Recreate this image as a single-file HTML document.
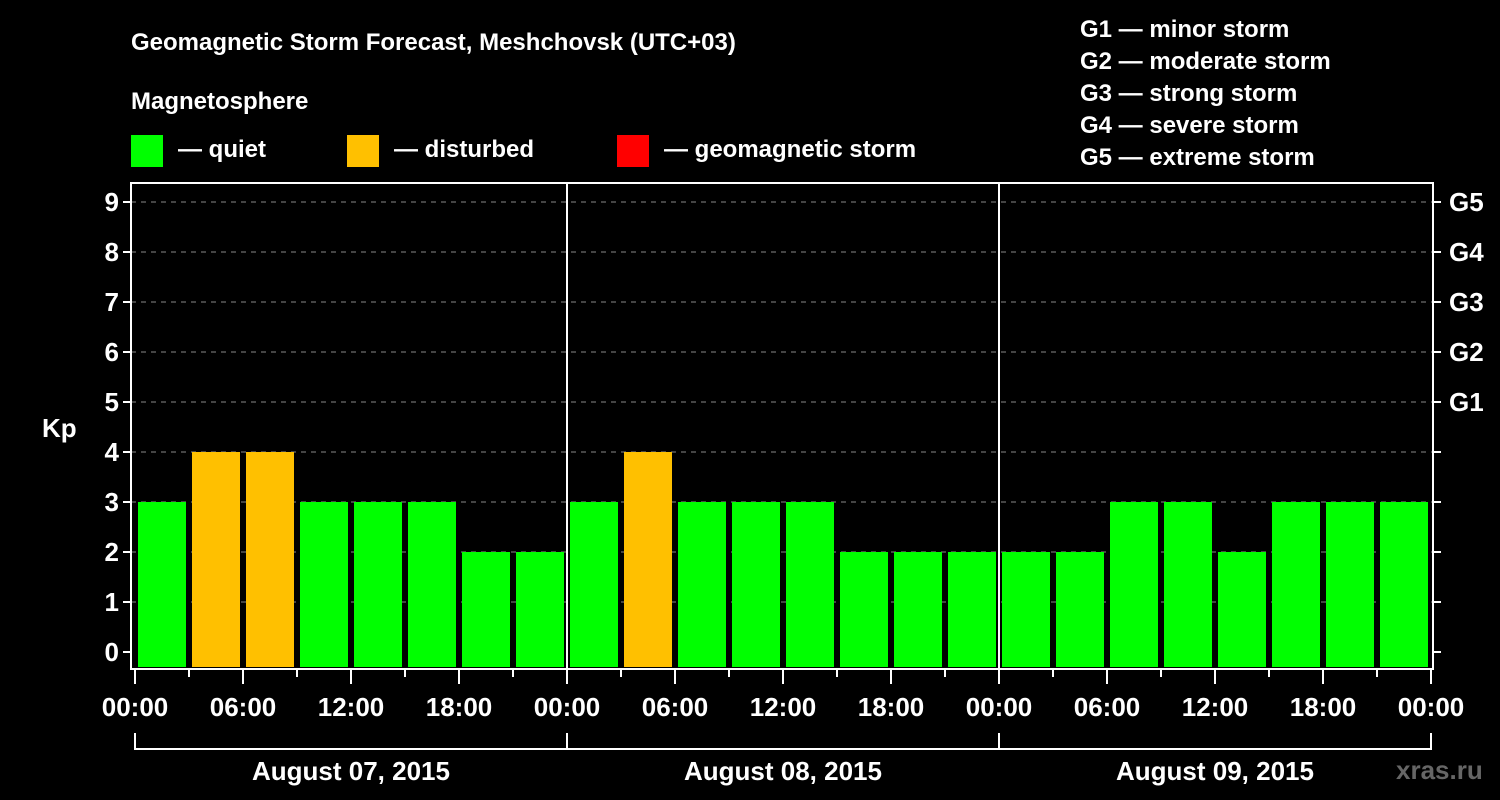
<!DOCTYPE html>
<html><head><meta charset="utf-8"><style>
body{margin:0;background:#000;}
svg{display:block;font-family:"Liberation Sans",Arial,sans-serif;font-weight:bold;}
</style></head><body>
<svg id="c" width="1500" height="800" viewBox="0 0 1500 800">
<rect width="1500" height="800" fill="#000"/>
<text x="131" y="50" fill="#fff" font-size="24">Geomagnetic Storm Forecast, Meshchovsk (UTC+03)</text>
<text x="131" y="109" fill="#fff" font-size="24">Magnetosphere</text>
<g><rect x="131" y="135" width="32" height="32" fill="#00ff00"/><text x="178" y="157" fill="#fff" font-size="24">— quiet</text></g>
<g><rect x="347" y="135" width="32" height="32" fill="#ffc000"/><text x="394" y="157" fill="#fff" font-size="24">— disturbed</text></g>
<g><rect x="617" y="135" width="32" height="32" fill="#ff0000"/><text x="664" y="157" fill="#fff" font-size="24">— geomagnetic storm</text></g>
<g fill="#fff" font-size="24">
<text x="1080" y="37">G1 — minor storm</text>
<text x="1080" y="69">G2 — moderate storm</text>
<text x="1080" y="101">G3 — strong storm</text>
<text x="1080" y="133">G4 — severe storm</text>
<text x="1080" y="165">G5 — extreme storm</text>
</g>
<text x="42" y="437" fill="#fff" font-size="26">Kp</text>
<text x="1396" y="779" fill="#666" font-size="26">xras.ru</text>
<g id="g"></g>
</svg>
<script>
const kpValues=[3,4,4,3,3,3,2,2, 3,4,3,3,3,2,2,2, 2,2,3,3,2,3,3,3];
const kpLevels=[0,1,2,3,4,5,6,7,8,9];
const gLabels=["G1","G2","G3","G4","G5"];
const hourLabels=["00:00","06:00","12:00","18:00"];
const dayLabels=["August 07, 2015","August 08, 2015","August 09, 2015"];
const X0=135,PXH=18,Y0=652,PXK=50,L=131,R=1433,T=183,B=669;
const xs=h=>X0+h*PXH, ys=k=>Y0-k*PXK;
const g=document.getElementById('g');const NS='http://www.w3.org/2000/svg';
function el(t,a){const e=document.createElementNS(NS,t);for(const k in a)e.setAttribute(k,a[k]);g.appendChild(e);return e;}
kpLevels.forEach(k=>{
 if(k>0){const ln=el('line',{x1:L,x2:R,y1:ys(k),y2:ys(k),stroke:'#888','stroke-dasharray':'5,5','stroke-width':1});
 
 }
 const t1=el('line',{x1:L-8,x2:L,y1:ys(k),y2:ys(k),stroke:'#fff','stroke-width':2});
 
 
 const t2=el('line',{x1:R,x2:R+8,y1:ys(k),y2:ys(k),stroke:'#fff','stroke-width':2});
 
 
 const tx=el('text',{x:L-12,y:ys(k)+9,fill:'#fff','font-size':26,'text-anchor':'end'});tx.textContent=k;
 
 
});
gLabels.forEach((s,i)=>{const tx=el('text',{x:R+16,y:ys(5+i)+9,fill:'#fff','font-size':26});tx.textContent=s;
 
 });
kpValues.forEach((v,i)=>{
 const c=v>=5?'#ff0000':(v>=4?'#ffc000':'#00ff00');
 const r=el('rect',{x:xs(i*3)+3,width:PXH*3-6,y:ys(v),height:B-2-ys(v),fill:c});
 
 
});
for(let d=1;d<dayLabels.length;d++){const ln=el('line',{x1:xs(d*24),x2:xs(d*24),y1:T,y2:B,stroke:'#fff','stroke-width':2});
 
 }
const fr=el('rect',{x:L,y:T,width:R-L,height:B-T,fill:'none',stroke:'#fff','stroke-width':2});


for(let h=0;h<=72;h+=3){const major=h%6===0;
 const t=el('line',{x1:xs(h),x2:xs(h),y1:B,y2:B+(major?15:8),stroke:'#fff','stroke-width':2});
 
 
 if(major){const tx=el('text',{x:xs(h),y:716,fill:'#fff','font-size':26,'text-anchor':'middle'});tx.textContent=hourLabels[(h/6)%4];
 
 }
}
dayLabels.forEach((s,d)=>{
 const a=xs(d*24),b=xs(d*24+24);
 const p=el('path',{d:`M${a},733V749H${b}V733`,fill:'none',stroke:'#fff','stroke-width':2});
 
 
 const tx=el('text',{x:(a+b)/2,y:780,fill:'#fff','font-size':26,'text-anchor':'middle'});tx.textContent=s;
 
 
});
</script>
</body></html>
